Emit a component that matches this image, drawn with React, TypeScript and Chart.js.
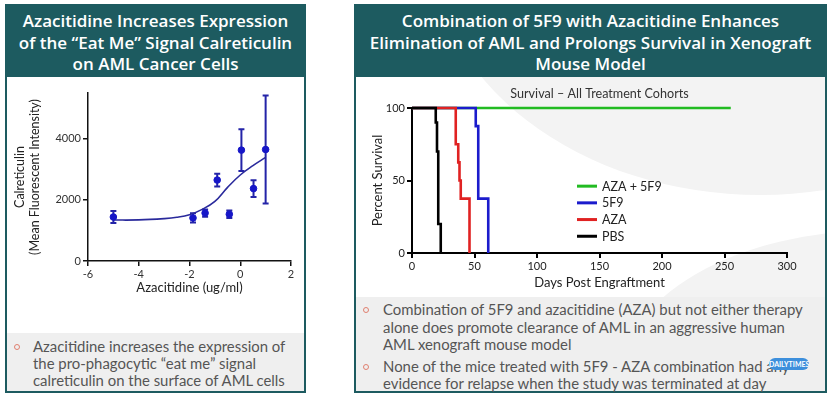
import React, { useEffect, useRef } from 'react';
import { Chart, registerables } from 'chart.js';

Chart.register(...registerables);

// ---------- Left chart data (log10 dose vs calreticulin MFI) ----------
const doseLog = [-5, -1.862, -1.385, -0.908, -0.431, 0.046, 0.523, 1.0];
const calreticulinMean = [1440, 1410, 1570, 2650, 1530, 3630, 2370, 3650];
const calreticulinErr = [200, 150, 120, 210, 120, 680, 275, 1770];
const fitX = [-5, -4, -3, -2.5, -2, -1.5, -1, -0.5, 0, 0.5, 1];
const fitY = [1340, 1345, 1388, 1430, 1515, 1690, 1950, 2410, 2815, 3120, 3390];
const leftYTicks = [0, 2000, 4000];
const leftXTicks = [-6, -4, -2, 0, 2];

// ---------- Right chart data (Kaplan–Meier survival) ----------
const survLabels = ['AZA + 5F9', '5F9', 'AZA', 'PBS'];
const survColors = ['#22bb22', '#1b1bcc', '#e02222', '#000000'];
const comboDays = [0, 255];
const comboSurv = [100, 100];
const f59Days = [0, 51, 53, 61];
const f59Surv = [100, 87.5, 37.5, 0];
const azaDays = [0, 35, 37, 38, 39, 46];
const azaSurv = [100, 75, 62.5, 50, 37.5, 0];
const pbsDays = [0, 19, 20, 21, 23];
const pbsSurv = [100, 90, 70, 20, 0];
const rightXTicks = [0, 50, 100, 150, 200, 250, 300];
const rightYTicks = [0, 50, 100];

const FONT = 'Lato, "Open Sans", sans-serif';
const HEAD_FONT = '"Open Sans", Lato, sans-serif';
const TEAL = '#1d5b60';

const setTicks = (vals: number[]) => (s: any) => {
  s.ticks = vals.map((v) => ({ value: v }));
};

const errorBarPlugin = {
  id: 'errorBars',
  beforeDatasetsDraw(chart: any) {
    const xs = chart.scales.x;
    const ys = chart.scales.y;
    const ctx = chart.ctx;
    ctx.save();
    ctx.strokeStyle = '#2424a8';
    ctx.lineWidth = 2;
    doseLog.forEach((d, i) => {
      const px = xs.getPixelForValue(d);
      const top = ys.getPixelForValue(calreticulinMean[i] + calreticulinErr[i]);
      const bot = ys.getPixelForValue(calreticulinMean[i] - calreticulinErr[i]);
      ctx.beginPath();
      ctx.moveTo(px, top);
      ctx.lineTo(px, bot);
      ctx.moveTo(px - 3, top);
      ctx.lineTo(px + 3, top);
      ctx.moveTo(px - 3, bot);
      ctx.lineTo(px + 3, bot);
      ctx.stroke();
    });
    ctx.restore();
  },
};

const survDecor = {
  id: 'survDecor',
  afterDraw(chart: any) {
    const ctx = chart.ctx;
    const a = chart.chartArea;
    ctx.save();
    ctx.fillStyle = '#333';
    ctx.font = `12.6px ${FONT}`;
    ctx.textAlign = 'center';
    ctx.textBaseline = 'middle';
    ctx.fillText('Survival – All Treatment Cohorts', (a.left + a.right) / 2, a.top - 14.5);
    const lx = a.left + (a.right - a.left) * 0.44;
    const ly = a.top + (a.bottom - a.top) * 0.539;
    ctx.textAlign = 'left';
    ctx.font = `12.5px ${FONT}`;
    survLabels.forEach((lab, i) => {
      const y = ly + i * 16.7;
      ctx.strokeStyle = survColors[i];
      ctx.lineWidth = 3;
      ctx.beginPath();
      ctx.moveTo(lx, y);
      ctx.lineTo(lx + 20, y);
      ctx.stroke();
      ctx.fillStyle = '#222';
      ctx.fillText(lab, lx + 25, y + 0.5);
    });
    ctx.restore();
  },
};

function LeftChart() {
  const ref = useRef<HTMLCanvasElement>(null);
  useEffect(() => {
    const chart = new Chart(ref.current as HTMLCanvasElement, {
      type: 'scatter',
      data: {
        datasets: [
          {
            type: 'scatter',
            label: 'Calreticulin',
            data: doseLog.map((x, i) => ({ x, y: calreticulinMean[i] })),
            pointRadius: 3.3,
            pointBackgroundColor: '#1616c8',
            pointBorderColor: '#1616c8',
            order: 1,
          } as any,
          {
            type: 'line',
            label: 'Fit',
            data: fitX.map((x, i) => ({ x, y: fitY[i] })),
            borderColor: '#2a2a9c',
            borderWidth: 1.6,
            pointRadius: 0,
            tension: 0.4,
            fill: false,
            order: 2,
          } as any,
        ],
      },
      options: {
        responsive: false,
        animation: false,
        layout: { padding: { top: 13, right: 11, left: 0, bottom: 0 } },
        plugins: { legend: { display: false }, tooltip: { enabled: false }, title: { display: false } },
        scales: {
          x: {
            type: 'linear',
            min: -6,
            max: 2,
            afterBuildTicks: setTicks(leftXTicks),
            ticks: { color: '#333', font: { family: FONT, size: 11 }, padding: 2, callback: (v: any) => String(v) },
            grid: { display: true, drawOnChartArea: false, drawTicks: true, tickLength: 5, color: '#111', lineWidth: 1.5 },
            border: { display: true, color: '#111', width: 1.5 },
            title: { display: true, text: 'Azacitidine (ug/ml)', color: '#222', font: { family: FONT, size: 13 }, padding: { top: 0, bottom: 4 } },
            afterFit: (s: any) => { s.height = 39; },
          },
          y: {
            type: 'linear',
            min: 0,
            max: 5500,
            afterBuildTicks: setTicks(leftYTicks),
            ticks: { color: '#333', font: { family: FONT, size: 11 }, padding: 2, callback: (v: any) => String(v) },
            grid: { display: true, drawOnChartArea: false, drawTicks: true, tickLength: 5, color: '#111', lineWidth: 1.5 },
            border: { display: true, color: '#111', width: 1.5 },
            title: { display: true, text: ['Calreticulin', '(Mean Fluorescent Intensity)'], color: '#222', font: { family: FONT, size: 12.5, lineHeight: 1.2 }, padding: { top: 4.5, bottom: 0 } },
            afterFit: (s: any) => { s.width = 80; },
          },
        },
      } as any,
      plugins: [errorBarPlugin],
    });
    return () => chart.destroy();
  }, []);
  return <canvas ref={ref} width={294} height={220} style={{ position: 'absolute', left: 8, top: 80, width: 294, height: 220 }} />;
}

function RightChart() {
  const ref = useRef<HTMLCanvasElement>(null);
  useEffect(() => {
    const mk = (days: number[], surv: number[], i: number, order: number) => ({
      type: 'line',
      label: survLabels[i],
      data: days.map((x, k) => ({ x, y: surv[k] })),
      borderColor: survColors[i],
      borderWidth: 2.6,
      pointRadius: 0,
      stepped: 'before',
      fill: false,
      clip: false,
      order,
    });
    const chart = new Chart(ref.current as HTMLCanvasElement, {
      type: 'line',
      data: {
        datasets: [
          mk(comboDays, comboSurv, 0, 4),
          mk(f59Days, f59Surv, 1, 3),
          mk(azaDays, azaSurv, 2, 2),
          mk(pbsDays, pbsSurv, 3, 1),
        ] as any,
      },
      options: {
        responsive: false,
        animation: false,
        layout: { padding: { top: 28, right: 38, left: 0, bottom: 0 } },
        plugins: { legend: { display: false }, tooltip: { enabled: false }, title: { display: false } },
        scales: {
          x: {
            type: 'linear',
            min: 0,
            max: 300,
            afterBuildTicks: setTicks(rightXTicks),
            ticks: { color: '#222', font: { family: FONT, size: 11 }, padding: 2 },
            grid: { display: true, drawOnChartArea: false, drawTicks: true, tickLength: 5, color: '#000', lineWidth: 2 },
            border: { display: true, color: '#000', width: 2 },
            title: { display: true, text: 'Days Post Engraftment', color: '#222', font: { family: FONT, size: 13 }, padding: { top: 0, bottom: 5 } },
            afterFit: (s: any) => { s.height = 43; },
          },
          y: {
            type: 'linear',
            min: 0,
            max: 100,
            afterBuildTicks: setTicks(rightYTicks),
            ticks: { color: '#222', font: { family: FONT, size: 11 }, padding: 2 },
            grid: { display: true, drawOnChartArea: false, drawTicks: true, tickLength: 5, color: '#000', lineWidth: 2 },
            border: { display: true, color: '#000', width: 2 },
            title: { display: true, text: 'Percent Survival', color: '#222', font: { family: FONT, size: 13 }, padding: { top: 14, bottom: 0 } },
            afterFit: (s: any) => { s.width = 56; },
          },
        },
      } as any,
      plugins: [survDecor],
    });
    return () => chart.destroy();
  }, []);
  return <canvas ref={ref} width={469} height={216} style={{ position: 'absolute', left: 356, top: 80, width: 469, height: 216 }} />;
}

const headerStyle: React.CSSProperties = {
  position: 'absolute',
  top: 4,
  height: 73,
  background: TEAL,
  color: '#fff',
  textAlign: 'center',
  fontFamily: HEAD_FONT,
  fontWeight: 600,
  fontSize: 17,
  lineHeight: '21.5px',
  paddingTop: 6,
  boxSizing: 'border-box',
  whiteSpace: 'nowrap',
};

const bodyText: React.CSSProperties = {
  position: 'absolute',
  fontFamily: FONT,
  fontSize: 14.9,
  color: '#555',
  whiteSpace: 'nowrap',
};

function Bullet({ x, y }: { x: number; y: number }) {
  return (
    <div style={{ position: 'absolute', left: x, top: y, width: 6, height: 6, borderRadius: '50%', border: '1.2px solid #e0806f', boxSizing: 'border-box' }} />
  );
}

export default function App() {
  useEffect(() => {
    document.body.style.margin = '0';
  }, []);
  return (
    <div style={{ position: 'absolute', left: 0, top: 0, width: 830, height: 398, background: '#fff', overflow: 'hidden', fontFamily: FONT }}>
      {/* Left panel */}
      <div style={{ position: 'absolute', left: 5, top: 4, width: 301, height: 389, border: `2px solid ${TEAL}`, boxSizing: 'border-box' }} />
      <div style={{ ...headerStyle, left: 5, width: 301 }}>
        Azacitidine Increases Expression<br />
        of the “Eat Me” Signal Calreticulin<br />
        on AML Cancer Cells
      </div>
      <LeftChart />
      <div style={{ position: 'absolute', left: 7, top: 333, width: 297, height: 58, background: '#efefef' }} />
      <Bullet x={14} y={344} />
      <div style={{ ...bodyText, left: 33, top: 338, lineHeight: '17px' }}>
        Azacitidine increases the expression of<br />
        the pro-phagocytic “eat me” signal<br />
        calreticulin on the surface of AML cells
      </div>

      {/* Right panel */}
      <div style={{ position: 'absolute', left: 356, top: 77, width: 469, height: 220, overflow: 'hidden' }}>
        <div style={{ position: 'absolute', left: 74, top: -392, width: 660, height: 510, borderRadius: '50%', background: '#f3f3f3' }} />
        <div style={{ position: 'absolute', left: 264, top: 153, width: 520, height: 300, borderRadius: '50%', background: '#f3f3f3' }} />
      </div>
      <div style={{ position: 'absolute', left: 354, top: 4, width: 473, height: 389, border: `2px solid ${TEAL}`, boxSizing: 'border-box' }} />
      <div style={{ ...headerStyle, left: 354, width: 473 }}>
        Combination of 5F9 with Azacitidine Enhances<br />
        Elimination of AML and Prolongs Survival in Xenograft<br />
        Mouse Model
      </div>
      <RightChart />
      <div style={{ position: 'absolute', left: 356, top: 297, width: 469, height: 94, background: '#efefef' }} />
      <Bullet x={363} y={307} />
      <div style={{ ...bodyText, left: 383, top: 301, lineHeight: '17.5px' }}>
        Combination of 5F9 and azacitidine (AZA) but not either therapy<br />
        alone does promote clearance of AML in an aggressive human<br />
        AML xenograft mouse model
      </div>
      <Bullet x={363} y={364} />
      <div style={{ ...bodyText, left: 383, top: 358, lineHeight: '17px' }}>
        None of the mice treated with 5F9 - AZA combination had any<br />
        evidence for relapse when the study was terminated at day
      </div>
      <div style={{ position: 'absolute', left: 769, top: 358, width: 40, height: 12, borderRadius: 6, background: '#3d8fdc', color: '#fff', fontFamily: FONT, fontSize: 7, fontWeight: 700, lineHeight: '12px', textAlign: 'center' }}>
        DAILYTIMES
      </div>
    </div>
  );
}
